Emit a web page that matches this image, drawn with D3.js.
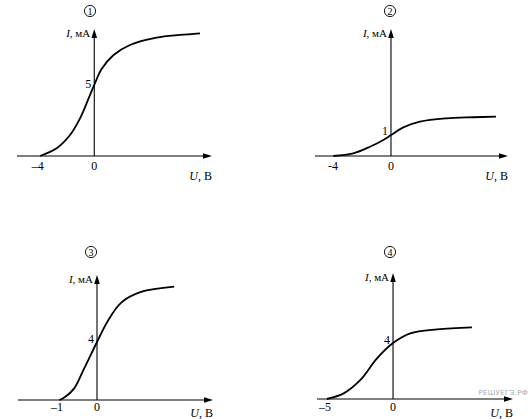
<!DOCTYPE html>
<html><head><meta charset="utf-8">
<script src="https://cdn.jsdelivr.net/npm/d3@7"></script>
<style>
html,body{margin:0;padding:0;background:#fff;}
</style></head>
<body><svg id="c" width="532" height="419"></svg>
<script>
// ---- data ----
const panelIds = ["1", "2", "3", "4"];
const u1 = [-3.85, -2.67, -1.72, -1.01, -0.43, 0, 0.52, 1.35, 2.53, 4.42, 6.08, 7.5];
const i1 = [0, 0.56, 1.52, 2.73, 4.1, 5.15, 6.3, 7.3, 8.04, 8.57, 8.77, 8.89];
const u2 = [-3.98, -2.6, -1.45, -0.53, 0, 0.85, 2.0, 3.84, 5.68, 7.24];
const i2 = [0, 0.12, 0.42, 0.73, 0.95, 1.3, 1.56, 1.71, 1.76, 1.79];
const u3 = [-0.94, -0.8, -0.57, -0.32, 0, 0.26, 0.6, 1.1, 1.93];
const i3 = [0, 0.2, 0.8, 2.18, 4.0, 5.4, 6.7, 7.45, 7.82];
const u4 = [-4.87, -3.63, -2.4, -1.18, 0, 1.27, 3.24, 5.8];
const i4 = [0, 0.4, 1.36, 2.9, 4.0, 4.69, 4.98, 5.12];
const uTickLabels = [["–4", "0"], ["-4", "0"], ["–1", "0"], ["–5", "0"]];
const uTicks = [[-4, 0], [-4, 0], [-1, 0], [-5, 0]];
const iTicks = [5, 1, 4, 4];

// ---- layout ----
const FONT = "'Liberation Serif','Times New Roman','DejaVu Serif',serif";
const layout = [
  {xr:[17,212], xd:[-5.48,8.35], yr:[156,29], yd:[0,9.2], circ:[90,11], xlb:170, ulb:180},
  {xr:[315,508], xd:[-5.24,8.07], yr:[156,29], yd:[0,5.77], circ:[390,11], xlb:170, ulb:180},
  {xr:[18,213], xd:[-1.975,2.9], yr:[400,275], yd:[0,8.62], circ:[91,252], xlb:411, ulb:417},
  {xr:[317,513], xd:[-5.59,8.82], yr:[399,273], yd:[0,9], circ:[390,252], xlb:411, ulb:417}
];
const series = [[u1,i1],[u2,i2],[u3,i3],[u4,i4]];

const svg = d3.select("#c");

layout.forEach((L, k) => {
  const x = d3.scaleLinear().domain(L.xd).range(L.xr);
  const y = d3.scaleLinear().domain(L.yd).range(L.yr);
  const g = svg.append("g");
  const x0 = x(0), y0 = y(0);
  // x axis
  g.append("line").attr("x1", L.xr[0]).attr("x2", L.xr[1]-7).attr("y1", y0).attr("y2", y0)
    .attr("stroke", "#000").attr("stroke-width", 1.1);
  g.append("path").attr("d", `M${L.xr[1]},${y0} L${L.xr[1]-9},${y0-2.8} L${L.xr[1]-9},${y0+2.8} Z`).attr("fill", "#000");
  // y axis
  g.append("line").attr("x1", x0).attr("x2", x0).attr("y1", y0).attr("y2", L.yr[1]+7)
    .attr("stroke", "#000").attr("stroke-width", 1.1);
  g.append("path").attr("d", `M${x0},${L.yr[1]} L${x0-2.8},${L.yr[1]+9} L${x0+2.8},${L.yr[1]+9} Z`).attr("fill", "#000");

  // curve
  const [us, is] = series[k];
  const pts = us.map((u, j) => [u, is[j]]);
  const line = d3.line().x(d => x(d[0])).y(d => y(d[1])).curve(d3.curveCatmullRom.alpha(0.5));
  g.append("path").attr("d", line(pts)).attr("fill", "none").attr("stroke", "#000").attr("stroke-width", 1.8);

  // tick labels on U
  uTicks[k].forEach((t, j) => {
    g.append("text").attr("x", x(t)).attr("y", L.xlb).attr("text-anchor", "middle")
      .attr("font-family", FONT).attr("font-size", 12).text(uTickLabels[k][j]);
  });
  // tick label on I
  g.append("text").attr("x", x0 - 3).attr("y", y(iTicks[k]) + 1).attr("text-anchor", "end")
    .attr("font-family", FONT).attr("font-size", 12).text(iTicks[k]);

  // axis titles
  const yt = g.append("text").attr("x", x0 - 4).attr("y", L.yr[1] + 8).attr("text-anchor", "end")
    .attr("font-family", FONT).attr("font-size", 11);
  yt.append("tspan").attr("font-style", "italic").text("I");
  yt.append("tspan").text(", мА");
  const xt = g.append("text").attr("x", L.xr[1]).attr("y", L.ulb).attr("text-anchor", "end")
    .attr("font-family", FONT).attr("font-size", 12);
  xt.append("tspan").attr("font-style", "italic").text("U");
  xt.append("tspan").text(", В");

  // circled number
  g.append("circle").attr("cx", L.circ[0]).attr("cy", L.circ[1]).attr("r", 5.6)
    .attr("fill", "none").attr("stroke", "#000").attr("stroke-width", 0.9);
  g.append("text").attr("x", L.circ[0]).attr("y", L.circ[1] + 3.5).attr("text-anchor", "middle")
    .attr("font-family", FONT).attr("font-size", 10).text(panelIds[k]);
});

// watermark
svg.append("text").attr("x", 528).attr("y", 395).attr("text-anchor", "end")
  .attr("font-size", 7).attr("font-family", "'DejaVu Sans',sans-serif").attr("fill", "#aaa")
  .attr("letter-spacing", 0.3).text("РЕШУЕГЭ.РФ");
</script></body></html>
